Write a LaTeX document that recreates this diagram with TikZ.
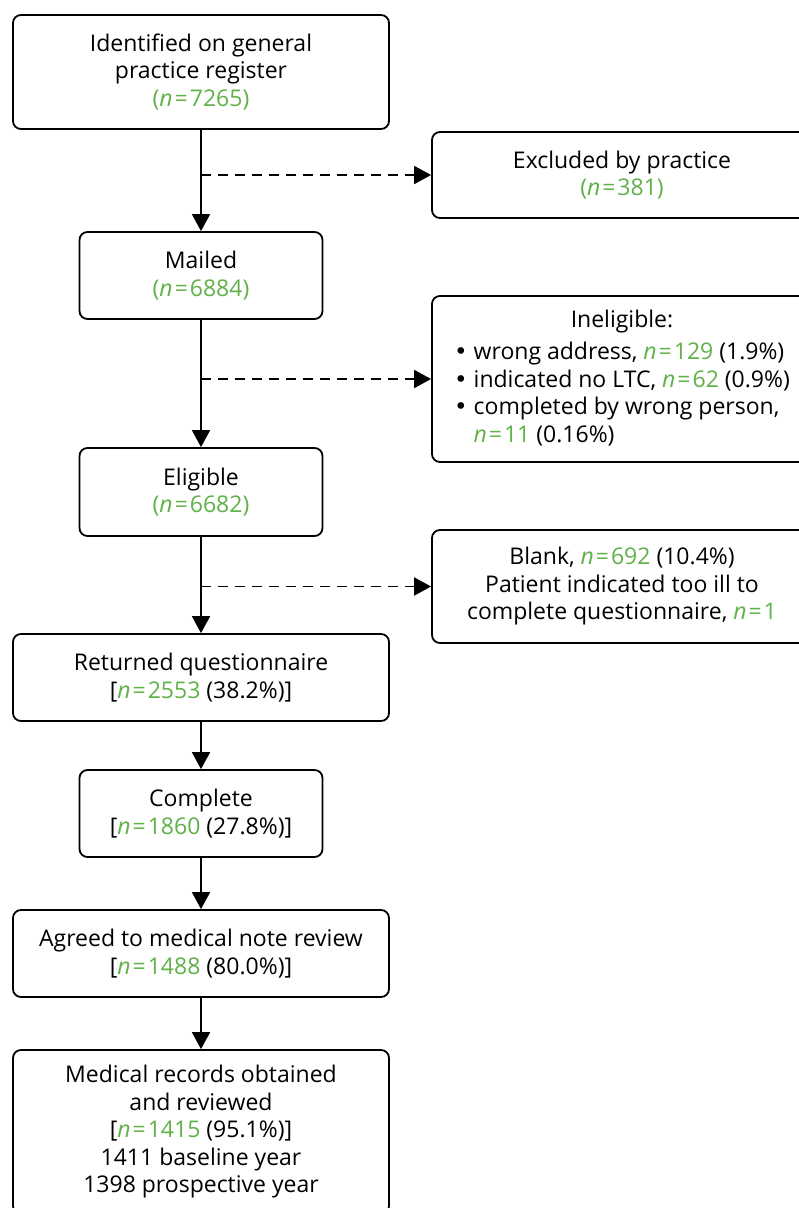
\documentclass[tikz,border=0pt]{standalone}
\usepackage{fontspec}
\setmainfont{Open Sans}
\newfontfamily\bulfont{DejaVu Sans}
\usetikzlibrary{arrows.meta}
\definecolor{ngreen}{RGB}{96,178,72}
\newcommand{\nval}[1]{\textcolor{ngreen}{\textit{n}\kern2pt=\kern2pt#1}}
\newcommand{\nparen}[1]{\textcolor{ngreen}{(\textit{n}\kern2pt=\kern2pt#1)}}
\newcommand{\bul}{{\bulfont •}\ }
\begin{document}
\begin{tikzpicture}[x=1pt,y=-1pt,
  box/.style={draw, line width=1.8pt, rounded corners=8pt, inner sep=0pt,
    align=center, font=\fontsize{23}{27.5}\selectfont},
  flow/.style={line width=1.8pt, -{Triangle[length=17pt,width=18pt]}},
  side/.style={flow, dash pattern=on 10pt off 7pt}]
\clip (0,0) rectangle (799,1208);
\fill[white] (0,0) rectangle (799,1208);

% main column
\node[box, minimum width=376pt, minimum height=114pt] (reg) at (201,72)
  {Identified on general\\practice register\\\nparen{7265}};
\node[box, minimum width=243pt, minimum height=87pt] (mail) at (201,275.5)
  {Mailed\\\nparen{6884}};
\node[box, minimum width=243pt, minimum height=88pt] (elig) at (201,492)
  {Eligible\\\nparen{6682}};
\node[box, minimum width=376pt, minimum height=87pt] (ret) at (201,677.5)
  {Returned questionnaire\\{[}\nval{2553} (38.2\%){]}};
\node[box, minimum width=243pt, minimum height=87pt] (comp) at (201,813.5)
  {Complete\\{[}\nval{1860} (27.8\%){]}};
\node[box, minimum width=376pt, minimum height=87pt] (agree) at (201,953.5)
  {Agreed to medical note review\\{[}\nval{1488} (80.0\%){]}};
\node[box, minimum width=376pt, minimum height=164pt] (med) at (201,1132)
  {Medical records obtained\\and reviewed\\{[}\nval{1415} (95.1\%){]}\\1411 baseline year\\1398 prospective year};

% side boxes
\node[box, minimum width=380pt, minimum height=86pt] (excl) at (622,175)
  {Excluded by practice\\\nparen{381}};
\node[box, minimum width=380pt, minimum height=166pt] (inel) at (622,379)
  {\begin{tabular}{@{}l@{}}
   \multicolumn{1}{c}{Ineligible:}\\[5pt]
   \bul wrong address, \nval{129} (1.9\%)\\
   \bul indicated no LTC, \nval{62} (0.9\%)\\
   \bul completed by wrong person,\\
   \hphantom{\bul}\nval{11} (0.16\%)
   \end{tabular}};
\node[box, minimum width=380pt, minimum height=113pt] (blank) at (622,586.5)
  {Blank, \nval{692} (10.4\%)\\Patient indicated too ill to\\complete questionnaire, \nval{1}};

% connectors
\draw[flow] (reg) -- (mail);
\draw[flow] (mail) -- (elig);
\draw[flow] (elig) -- (ret);
\draw[flow] (ret) -- (comp);
\draw[flow] (comp) -- (agree);
\draw[flow] (agree) -- (med);
\draw[side] (reg.south |- excl.west) -- (excl.west);
\draw[side] (mail.south |- inel.west) -- (inel.west);
\draw[side] (elig.south |- blank.west) -- (blank.west);
\end{tikzpicture}
\end{document}
